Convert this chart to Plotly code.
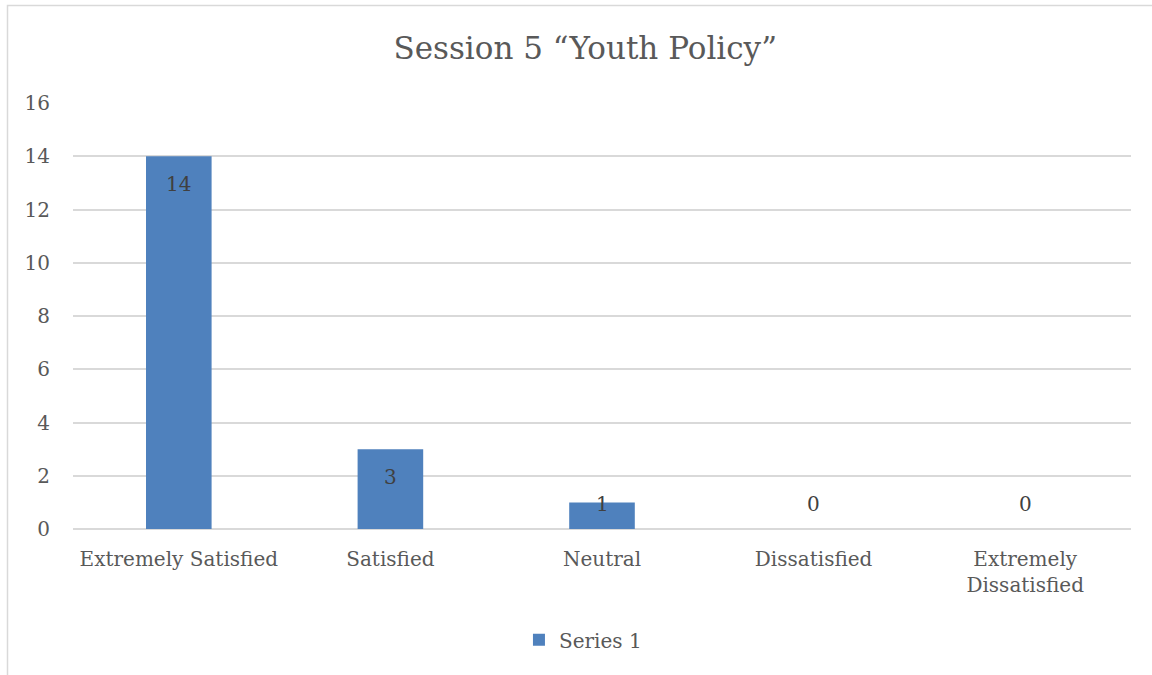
import plotly.graph_objects as go

categories = ["Extremely Satisfied", "Satisfied", "Neutral", "Dissatisfied", "Extremely<br>Dissatisfied"]
values = [14, 3, 1, 0, 0]
series_name = "Series 1"
title_text = "Session 5 \u201cYouth Policy\u201d"

FONT = "DejaVu Serif"
GRAY = "#595959"
BLUE = "#4F81BD"

fig = go.Figure()
fig.add_trace(go.Bar(
    x=categories, y=values, name=series_name,
    marker=dict(color=BLUE, line=dict(width=0)),
    showlegend=True,
))

# data labels: inside end for tall bars, otherwise just above the baseline
ann = []
for c, v in zip(categories, values):
    if v >= 3:
        ann.append(dict(x=c, y=v, yshift=-28, text=str(v), showarrow=False,
                        xref="x", yref="y", font=dict(family=FONT, size=20, color="#404040")))
    else:
        ann.append(dict(x=c, y=0, yshift=25, text=str(v), showarrow=False,
                        xref="x", yref="y", font=dict(family=FONT, size=20, color="#404040")))

fig.update_layout(
    width=1152, height=675,
    margin=dict(l=73, r=21, t=103, b=146),
    paper_bgcolor="white", plot_bgcolor="white",
    font=dict(family=FONT, size=20, color=GRAY),
    title=dict(text=title_text, x=0.508, xanchor="center", y=1 - 48 / 675, yanchor="middle",
               font=dict(family=FONT, size=31, color=GRAY)),
    bargap=0.69,
    xaxis=dict(showgrid=False, ticks="", showline=False, zeroline=False,
               tickfont=dict(family=FONT, size=20, color=GRAY), ticklabelstandoff=16),
    yaxis=dict(range=[0, 16], dtick=2, showgrid=True, gridcolor="#d9d9d9", gridwidth=1.5,
               zeroline=True, zerolinecolor="#d9d9d9", zerolinewidth=1.5,
               ticks="", showline=False, tickfont=dict(family=FONT, size=20, color=GRAY),
               ticklabelstandoff=22),
    legend=dict(orientation="h", x=0.482, xanchor="center", y=-0.26, yanchor="middle",
                font=dict(family=FONT, size=20, color=GRAY)),
    annotations=ann,
    shapes=[dict(type="rect", xref="paper", yref="paper",
                 x0=(7.5 - 73) / 1058, x1=1.1, y0=-0.5, y1=1 + (103 - 5.5) / 426,
                 line=dict(color="#d9d9d9", width=1.5), layer="below")],
)

fig.write_html("out.html")
